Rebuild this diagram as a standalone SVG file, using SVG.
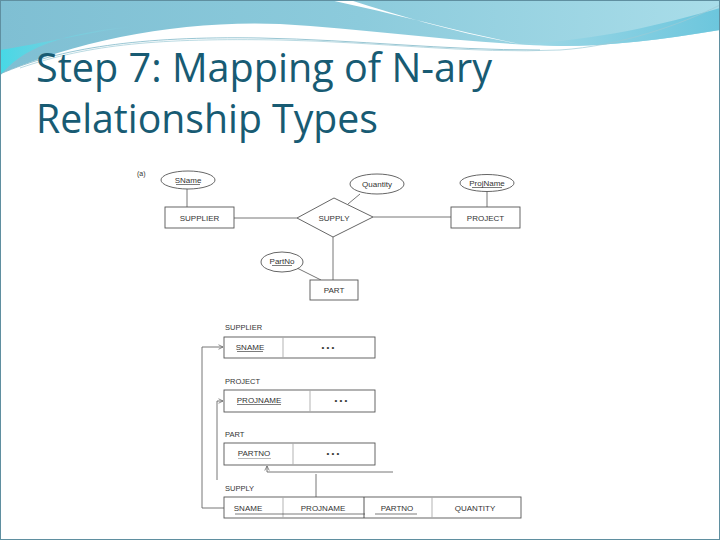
<svg xmlns="http://www.w3.org/2000/svg" width="720" height="540" viewBox="0 0 720 540">
<defs>
<linearGradient id="band" x1="0" y1="0" x2="1" y2="0">
<stop offset="0" stop-color="#7fbfd3"/>
<stop offset="0.5" stop-color="#8ccbdc"/>
<stop offset="1" stop-color="#a9dde9"/>
</linearGradient>
<linearGradient id="band2" x1="0" y1="0" x2="1" y2="0">
<stop offset="0" stop-color="#9fd8e6"/>
<stop offset="1" stop-color="#6cc6dd"/>
</linearGradient>
<linearGradient id="cyan" x1="0" y1="0" x2="1" y2="0">
<stop offset="0" stop-color="#46d8e6"/>
<stop offset="1" stop-color="#8fdde8" stop-opacity="0"/>
</linearGradient>
<marker id="arr" viewBox="0 0 8 8" refX="7" refY="4" markerWidth="6" markerHeight="6" orient="auto" markerUnits="userSpaceOnUse">
<path d="M1,1 L7,4 L1,7" fill="none" stroke="#666" stroke-width="1"/>
</marker>
<style>
.t{font-family:"Liberation Sans",Arial,sans-serif;font-size:8px;fill:#333;text-anchor:middle}
.l{font-family:"Liberation Sans",Arial,sans-serif;font-size:7.5px;fill:#333}
.s{fill:#fff;stroke:#555;stroke-width:0.9}
.c{fill:none;stroke:#666;stroke-width:0.9}
.u{stroke:#444;stroke-width:0.7}
.title{font-family:"Open Sans","Noto Sans",sans-serif;font-size:41px;fill:#185b73}
</style>
</defs>
<rect width="720" height="540" fill="#fff"/>
<g id="header">
<path d="M0,0 H720 V30 C660,40 610,46 560,46 C470,44 380,30 280,24 C180,20 80,40 0,74 Z" fill="url(#band)"/>
<path d="M0,50 C60,40 100,30 140,26 C60,32 20,50 0,76 Z" fill="url(#cyan)"/>
<path d="M330,0 C400,15 460,32 520,44 C460,34 400,16 350,0 Z" fill="#fff"/>
<path d="M520,44 C600,40 660,25 720,8 V30 C660,40 610,46 560,46 Z" fill="url(#band2)"/>
<path d="M0,74 C60,48 140,36 260,38 C360,40 440,50 540,50" fill="none" stroke="#7fb8c8" stroke-width="0.8"/>
<path d="M20,68 C90,44 160,38 280,40 C380,42 470,54 560,50 C620,46 680,25 720,5" fill="none" stroke="#9ccad6" stroke-width="0.7"/>
<rect x="0.5" y="0.5" width="719" height="539" fill="none" stroke="#5f8fa0" stroke-width="1"/>
</g>
<g id="title">
<text class="title" x="36" y="82" textLength="456" lengthAdjust="spacingAndGlyphs">Step 7: Mapping of N-ary</text>
<text class="title" x="36" y="133" textLength="342" lengthAdjust="spacingAndGlyphs">Relationship Types</text>
</g>
<g id="connectors">
<line class="c" x1="187" y1="188" x2="187" y2="207"/>
<line class="c" x1="234" y1="218" x2="297" y2="218"/>
<line class="c" x1="373" y1="217" x2="451" y2="217"/>
<line class="c" x1="487" y1="191" x2="487" y2="207"/>
<line class="c" x1="360" y1="194" x2="348" y2="204"/>
<line class="c" x1="333" y1="237" x2="333" y2="280"/>
<line class="c" x1="297" y1="268" x2="321" y2="280"/>
<polyline class="c" points="224,508 202,508 202,347 223,347" marker-end="url(#arr)"/>
<polyline class="c" points="217,480 217,401 223,401" marker-end="url(#arr)"/>
<line class="c" x1="316" y1="497" x2="316" y2="474"/>
<polyline class="c" points="393,472 267,472 267,466" marker-end="url(#arr)"/>
</g>
<g id="label-a"><text class="l" x="137" y="176" style="font-size:7px">(a)</text></g>
<g id="attr-sname">
<ellipse class="s" cx="188" cy="180" rx="27" ry="9"/>
<text class="t" x="188" y="183">SName</text>
<line class="u" x1="176" y1="184.5" x2="200" y2="184.5"/>
</g>
<g id="ent-supplier">
<rect class="s" x="165" y="207" width="69" height="21"/>
<text class="t" x="199.5" y="221">SUPPLIER</text>
</g>
<g id="rel-supply">
<polygon class="s" points="297,218 334,198 373,217 333,237"/>
<text class="t" x="334" y="221">SUPPLY</text>
</g>
<g id="attr-quantity">
<ellipse class="s" cx="377" cy="184" rx="27" ry="10"/>
<text class="t" x="377" y="187">Quantity</text>
</g>
<g id="attr-projname">
<ellipse class="s" cx="487" cy="183" rx="27" ry="8.5"/>
<text class="t" x="487" y="186">ProjName</text>
<line class="u" x1="472" y1="187.5" x2="502" y2="187.5"/>
</g>
<g id="ent-project">
<rect class="s" x="451" y="207" width="69" height="21"/>
<text class="t" x="485.5" y="221">PROJECT</text>
</g>
<g id="attr-partno">
<ellipse class="s" cx="282" cy="262" rx="21" ry="10"/>
<text class="t" x="282" y="264">PartNo</text>
<line class="u" x1="272" y1="265.5" x2="292" y2="265.5"/>
</g>
<g id="ent-part">
<rect class="s" x="310" y="280" width="48" height="20"/>
<text class="t" x="334" y="293">PART</text>
</g>
<g id="tbl-supplier">
<text class="l" x="225" y="330">SUPPLIER</text>
<rect class="s" x="224" y="337" width="151" height="21"/>
<line class="c" x1="283" y1="337" x2="283" y2="358" style="stroke:#aaa"/>
<text class="t" x="250" y="350">SNAME</text>
<line class="u" x1="237" y1="351.5" x2="263" y2="351.5"/>
<text class="t" x="328" y="350">• • •</text>
</g>
<g id="tbl-project">
<text class="l" x="225" y="384">PROJECT</text>
<rect class="s" x="224" y="390" width="151" height="22"/>
<line class="c" x1="310" y1="390" x2="310" y2="412" style="stroke:#aaa"/>
<text class="t" x="259" y="403">PROJNAME</text>
<line class="u" x1="237" y1="404.5" x2="281" y2="404.5"/>
<text class="t" x="341" y="403">• • •</text>
</g>
<g id="tbl-part">
<text class="l" x="225" y="437">PART</text>
<rect class="s" x="224" y="443" width="151" height="22"/>
<line class="c" x1="293" y1="443" x2="293" y2="465" style="stroke:#aaa"/>
<text class="t" x="254" y="456">PARTNO</text>
<line class="u" x1="238" y1="458.5" x2="271" y2="458.5" style="stroke:#999"/>
<text class="t" x="333" y="456">• • •</text>
</g>
<g id="tbl-supply">
<text class="l" x="225" y="491">SUPPLY</text>
<rect class="s" x="224" y="497" width="297" height="21"/>
<line class="c" x1="283" y1="497" x2="283" y2="518" style="stroke:#aaa"/>
<line class="c" x1="364" y1="497" x2="364" y2="518" style="stroke:#444"/>
<line class="c" x1="432" y1="497" x2="432" y2="518" style="stroke:#aaa"/>
<text class="t" x="248" y="511">SNAME</text>
<text class="t" x="323" y="511">PROJNAME</text>
<text class="t" x="397" y="511">PARTNO</text>
<text class="t" x="475" y="511">QUANTITY</text>
<line class="u" x1="235" y1="514" x2="365" y2="514"/>
<line class="u" x1="375" y1="514" x2="417" y2="514"/>
</g>
</svg>
